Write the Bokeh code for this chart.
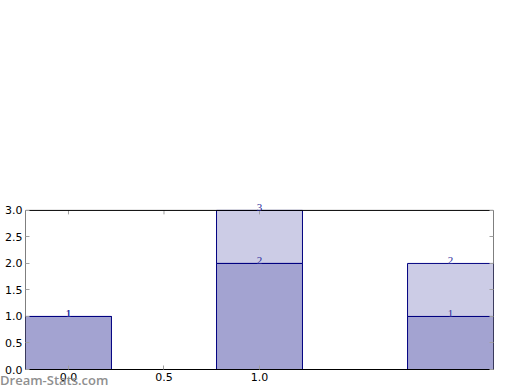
from bokeh.plotting import figure
from bokeh.models import (LinearAxis, FixedTicker, Range1d, LabelSet, Div,
                          ColumnDataSource, PrintfTickFormatter)
from bokeh.layouts import column
from bokeh.embed import file_html
from bokeh.resources import INLINE

# data
positions = [0, 1, 2]
lower = [1, 2, 1]
upper = [0, 1, 1]
x_ticks = [0.0, 0.5, 1.0]
y_ticks = [0.0, 0.5, 1.0, 1.5, 2.0, 2.5, 3.0]

totals = [a + b for a, b in zip(lower, upper)]

x_lo, x_hi = -0.225, 2.225
y_lo, y_hi = y_ticks[0], y_ticks[-1]
y_pad = 0.3          # invisible headroom so the top value label is not clipped
tick_len = 0.075     # 4 px in data units

p = figure(frame_width=468, frame_height=175,
           output_backend="svg", toolbar_location=None,
           x_range=Range1d(x_lo, x_hi), y_range=Range1d(y_lo, y_hi + y_pad),
           min_border_left=25, min_border_right=4, min_border_top=194,
           min_border_bottom=17, x_axis_location=None, y_axis_location=None)
p.background_fill_color = "white"
p.border_fill_color = "white"
p.outline_line_color = None
p.xgrid.visible = False
p.ygrid.visible = False


def style(ax, ticks, labels=True, line=True):
    ax.axis_line_color = "black" if line else None
    ax.major_tick_in = 4
    ax.major_tick_out = 0
    ax.minor_tick_line_color = None
    ax.major_tick_line_color = "#a0a0a0"
    ax.major_tick_line_width = 1
    ax.major_label_text_font = "DejaVu Sans"
    ax.major_label_text_font_size = "11px"
    ax.major_label_text_color = "black"
    ax.formatter = PrintfTickFormatter(format="%.1f")
    if labels:
        ax.major_label_standoff = 3
    else:
        ax.major_label_standoff = 0
        ax.major_label_overrides = {t: "" for t in ticks}


bx = LinearAxis(ticker=FixedTicker(ticks=x_ticks))
style(bx, x_ticks)
p.add_layout(bx, "below")
ly = LinearAxis(ticker=FixedTicker(ticks=y_ticks))
style(ly, y_ticks, line=False)
p.add_layout(ly, "left")
ry = LinearAxis(ticker=FixedTicker(ticks=y_ticks))
style(ry, y_ticks, False, line=False)
p.add_layout(ry, "right")

src = ColumnDataSource(dict(x=positions, lower=lower, upper=upper, total=totals,
                            lower_lbl=[str(v) for v in lower],
                            total_lbl=[str(v) for v in totals]))

p.vbar(x="x", bottom=0, top="lower", width=0.45, source=src,
       fill_color="navy", fill_alpha=0.36, line_color="navy", line_width=1)
p.vbar(x="x", bottom="lower", top="total", width=0.45, source=src,
       fill_color="navy", fill_alpha=0.2, line_color="navy", line_width=1)

# top ticks (inside, pointing down from the top edge)
p.segment(x0=x_ticks, y0=[y_hi] * len(x_ticks), x1=x_ticks,
          y1=[y_hi - tick_len] * len(x_ticks), line_color="#a0a0a0", line_width=1)

# axes box
p.quad(left=[x_lo], right=[x_hi], bottom=[y_lo], top=[y_hi],
       fill_color=None, line_color="black", line_width=1)

text_color = "#2a2a9a"
for ycol, tcol in (("lower", "lower_lbl"), ("total", "total_lbl")):
    ls = LabelSet(x="x", y=ycol, text=tcol, source=src, text_align="center",
                  text_baseline="alphabetic", y_offset=-1, text_color=text_color,
                  text_font="DejaVu Sans", text_font_size="11px")
    p.add_layout(ls)

wm = Div(text="Dream-Stats.com",
         styles={"margin-top": "-12px", "margin-left": "0px",
                 "position": "relative", "z-index": "2",
                 "color": "#8f8f8f", "font-family": "Open Sans",
                 "font-weight": "600", "font-size": "13px", "line-height": "13px"})

layout = column(p, wm, spacing=0)

open("out.html", "w").write(file_html(layout, INLINE))
